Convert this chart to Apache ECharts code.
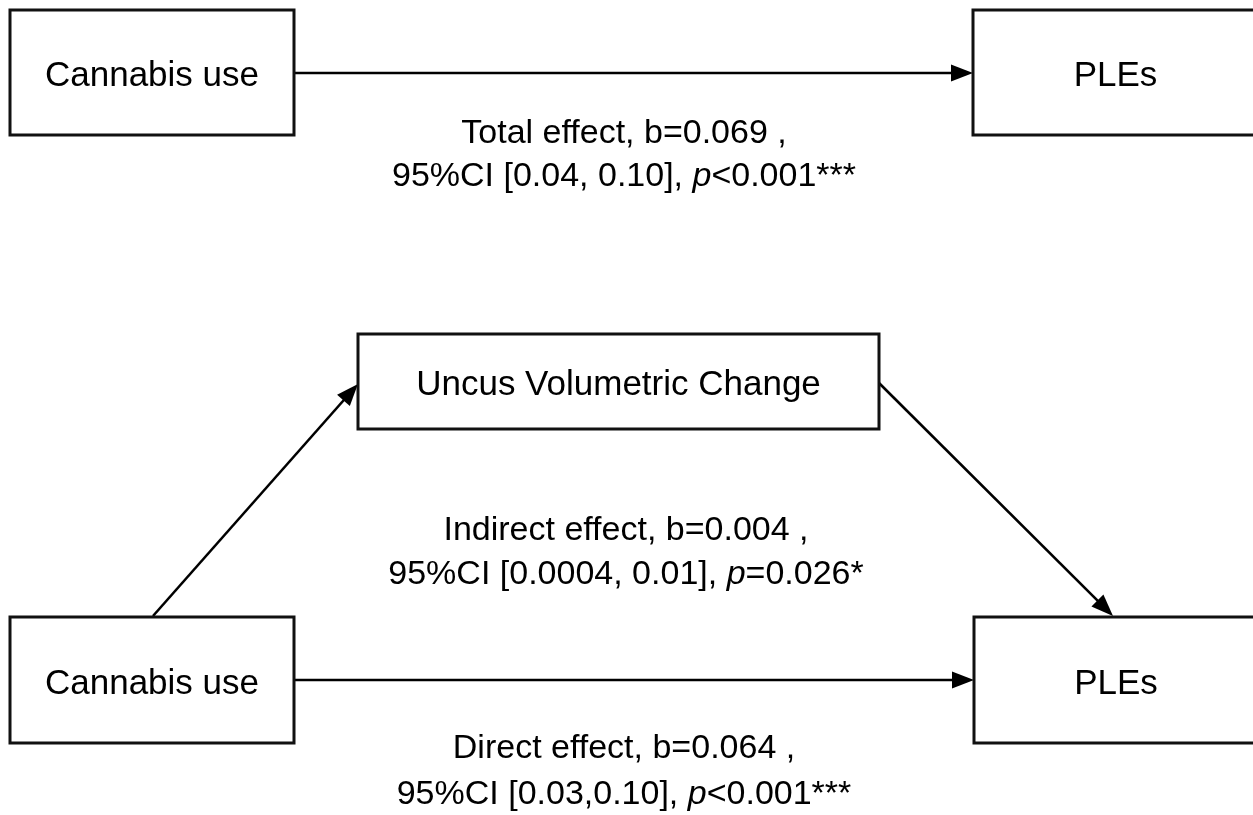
<!DOCTYPE html>
<html>
<head>
<meta charset="utf-8">
<script src="https://cdn.jsdelivr.net/npm/echarts@6/dist/echarts.min.js"></script>
<style>
html, body { margin: 0; padding: 0; background: #fff; }
#main { width: 1253px; height: 815px; }
</style>
</head>
<body>
<div id="main"></div>
<script>
//节点 (图坐标: 左, 上, 右, 下)
var nodeNames = ['Cannabis use', 'PLEs', 'Uncus Volumetric Change', 'Cannabis use', 'PLEs'];
var nodeLeft = [10, 973, 358, 10, 974];
var nodeTop = [10, 10, 334, 617, 617];
var nodeRight = [294, 1258, 879, 294, 1258];
var nodeBottom = [135, 135, 429, 743, 743];

//路径箭头 起点 -> 终点
var edgeStart = [[294, 73], [153, 616], [879, 383], [294, 680]];
var edgeEnd = [[973, 73], [358, 384], [1113, 616], [974, 680]];

//效应文字
var effectHead = ['Total effect, b=0.069 ,', 'Indirect effect, b=0.004 ,', 'Direct effect, b=0.064 ,'];
var effectCI = ['95%CI [0.04, 0.10], ', '95%CI [0.0004, 0.01], ', '95%CI [0.03,0.10], '];
var effectP = ['<0.001***', '=0.026*', '<0.001***'];
var effectX = [624, 626, 624];
var effectY1 = [134, 531, 749];
var effectY2 = [177, 575, 795];

var fontFamily = '"Liberation Sans", Arial, Helvetica, sans-serif';

var nodeData = [];
for (var i = 0; i < nodeNames.length; i++) {
	nodeData.push([nodeLeft[i], nodeTop[i], nodeRight[i], nodeBottom[i], nodeNames[i]]);
}
var edgeData = [];
for (var i = 0; i < edgeStart.length; i++) {
	edgeData.push([edgeStart[i][0], edgeStart[i][1], edgeEnd[i][0], edgeEnd[i][1]]);
}
var effectData = [];
for (var i = 0; i < effectHead.length; i++) {
	effectData.push([effectX[i], effectY1[i], effectY2[i], effectHead[i], effectCI[i], effectP[i]]);
}

function renderNode(params, api) {
	var p0 = api.coord([api.value(0), api.value(1)]);
	var p1 = api.coord([api.value(2), api.value(3)]);
	var name = nodeNames[params.dataIndex];
	return {
		type: 'group',
		children: [{
			type: 'rect',
			shape: { x: p0[0], y: p0[1], width: p1[0] - p0[0], height: p1[1] - p0[1] },
			style: { fill: '#fff', stroke: '#111', lineWidth: 3 }
		}, {
			type: 'text',
			x: (p0[0] + p1[0]) / 2,
			y: (p0[1] + p1[1]) / 2 + 4,
			style: {
				text: name, fill: '#000', fontSize: 35, fontFamily: fontFamily,
				align: 'center', verticalAlign: 'middle'
			}
		}]
	};
}

function renderEdge(params, api) {
	var p0 = api.coord([api.value(0), api.value(1)]);
	var p1 = api.coord([api.value(2), api.value(3)]);
	var dx = p1[0] - p0[0], dy = p1[1] - p0[1];
	var len = Math.sqrt(dx * dx + dy * dy);
	var ux = dx / len, uy = dy / len;
	var headL = 22, headW = 8.5;
	var bx = p1[0] - ux * headL, by = p1[1] - uy * headL;
	return {
		type: 'group',
		children: [{
			type: 'line',
			shape: { x1: p0[0], y1: p0[1], x2: bx + ux * 2, y2: by + uy * 2 },
			style: { stroke: '#000', lineWidth: 2.6 }
		}, {
			type: 'polygon',
			shape: { points: [[p1[0], p1[1]], [bx - uy * headW, by + ux * headW], [bx + uy * headW, by - ux * headW]] },
			style: { fill: '#000' }
		}]
	};
}

function renderEffect(params, api) {
	var i = params.dataIndex;
	var a = api.coord([api.value(0), api.value(1)]);
	var b = api.coord([api.value(0), api.value(2)]);
	var rich = {
		n: { fontSize: 34, fontFamily: fontFamily, fill: '#000' },
		i: { fontSize: 34, fontFamily: fontFamily, fontStyle: 'italic', fill: '#000' }
	};
	return {
		type: 'group',
		children: [{
			type: 'text',
			x: a[0], y: a[1],
			style: {
				text: effectHead[i], fill: '#000', fontSize: 34, fontFamily: fontFamily,
				align: 'center', verticalAlign: 'middle'
			}
		}, {
			type: 'text',
			x: b[0], y: b[1],
			style: {
				text: '{n|' + effectCI[i] + '}{i|p}{n|' + effectP[i] + '}',
				rich: rich, fontSize: 34, fontFamily: fontFamily,
				align: 'center', verticalAlign: 'middle'
			}
		}]
	};
}

var myChart = echarts.init(document.getElementById('main'), null, { renderer: 'canvas' });
myChart.setOption({
	backgroundColor: '#fff',
	animation: false,
	grid: { left: 0, right: 0, top: 0, bottom: 0 },
	xAxis: { type: 'value', min: 0, max: 1253, show: false },
	yAxis: { type: 'value', min: 0, max: 815, inverse: true, show: false },
	series: [{
		type: 'custom',
		name: 'edges',
		renderItem: renderEdge,
		data: edgeData,
		z: 1,
		silent: true
	}, {
		type: 'custom',
		name: 'nodes',
		renderItem: renderNode,
		data: nodeData,
		z: 2,
		silent: true
	}, {
		type: 'custom',
		name: 'effects',
		renderItem: renderEffect,
		data: effectData,
		z: 3,
		silent: true
	}]
});
</script>
</body>
</html>
